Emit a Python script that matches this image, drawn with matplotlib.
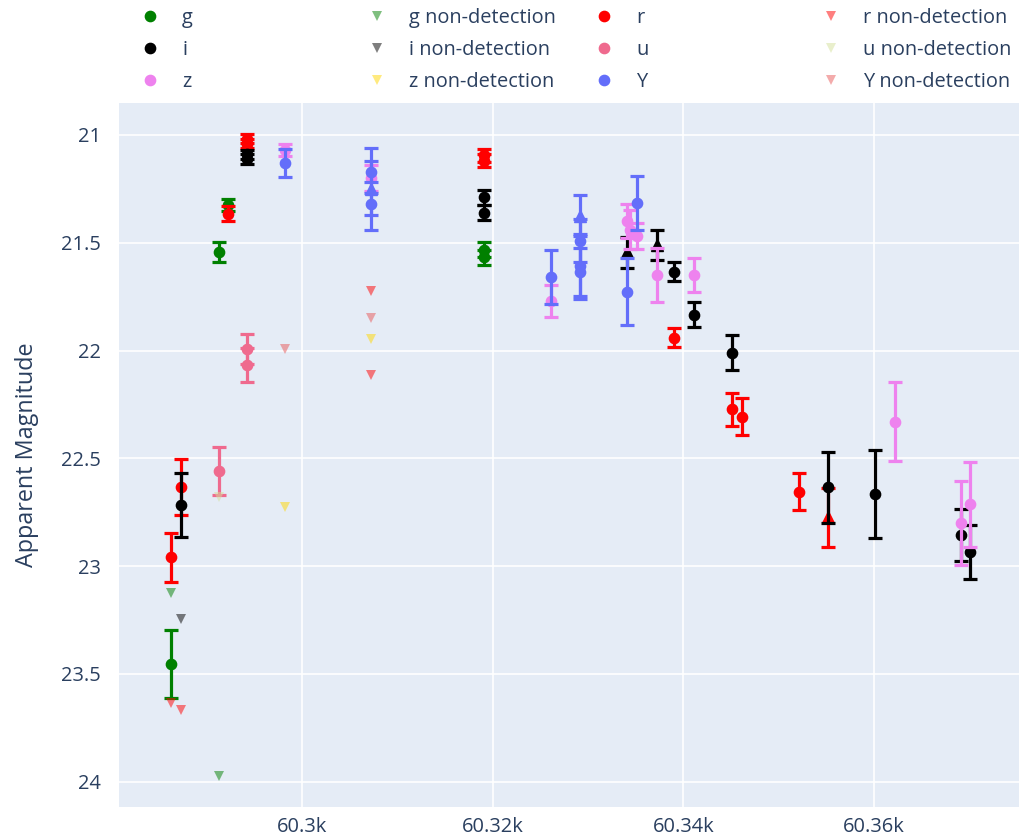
import matplotlib
matplotlib.use("Agg")
import matplotlib.pyplot as plt
from matplotlib.lines import Line2D
from matplotlib.ticker import FuncFormatter, MultipleLocator

plt.rcParams['font.family'] = ['Open Sans', 'DejaVu Sans']

# ---------------- data ----------------
g_x = [60286.26, 60291.30, 60292.24, 60319.09, 60319.09]
g_mag = [23.455, 21.543, 21.325, 21.533, 21.568]
g_err = [0.158, 0.045, 0.03, 0.035, 0.035]
g_sym = ['o', 'o', 'o', 'o', 'o']
g_nd_x = [60286.26, 60291.30]
g_nd_mag = [23.126, 23.973]

r_x = [60286.26, 60287.31, 60292.24, 60294.23, 60294.23, 60319.09, 60319.09,
       60339.01, 60345.07, 60346.11, 60352.15, 60355.13]
r_mag = [22.959, 22.632, 21.365, 21.018, 21.04, 21.095, 21.12,
         21.94, 22.272, 22.307, 22.655, 22.773]
r_err = [0.113, 0.13, 0.035, 0.02, 0.02, 0.03, 0.03,
         0.045, 0.076, 0.087, 0.085, 0.136]
r_sym = ['o'] * 11 + ['^']
r_nd_x = [60286.26, 60287.31, 60307.20, 60307.20]
r_nd_mag = [23.634, 23.667, 21.726, 22.113]

i_x = [60287.31, 60294.23, 60294.23, 60319.09, 60319.09, 60334.03, 60337.20,
       60339.01, 60341.11, 60345.07, 60355.13, 60360.09, 60369.11, 60370.06]
i_mag = [22.718, 21.09, 21.112, 21.29, 21.36, 21.545, 21.51,
         21.634, 21.835, 22.01, 22.634, 22.665, 22.855, 22.933]
i_err = [0.148, 0.022, 0.022, 0.035, 0.035, 0.07, 0.07,
         0.045, 0.058, 0.081, 0.165, 0.205, 0.12, 0.126]
i_sym = ['o'] * 5 + ['^', '^'] + ['o'] * 7
i_nd_x = [60287.31]
i_nd_mag = [23.245]

u_x = [60291.30, 60294.23, 60294.23]
u_mag = [22.558, 21.993, 22.067]
u_err = [0.11, 0.07, 0.08]
u_sym = ['o', 'o', 'o']
u_nd_x = [60291.30]
u_nd_mag = [22.68]

z_x = [60298.16, 60307.20, 60326.08, 60334.03, 60334.40, 60335.13, 60337.20,
       60341.11, 60362.19, 60369.11, 60370.06]
z_mag = [21.07, 21.2, 21.77, 21.40, 21.44, 21.47, 21.65,
         21.649, 22.33, 22.801, 22.712]
z_err = [0.03, 0.06, 0.075, 0.08, 0.09, 0.06, 0.125,
         0.08, 0.183, 0.195, 0.197]
z_sym = ['o'] * 11
z_nd_x = [60298.16, 60307.20]
z_nd_mag = [22.724, 21.946]

Y_x = [60298.16, 60307.20, 60307.20, 60307.20, 60326.08, 60329.16, 60329.16,
       60329.16, 60329.16, 60334.03, 60335.13]
Y_mag = [21.13, 21.17, 21.25, 21.32, 21.66, 21.375, 21.49,
         21.61, 21.635, 21.727, 21.314]
Y_err = [0.065, 0.05, 0.19, 0.05, 0.125, 0.095, 0.1,
         0.15, 0.11, 0.155, 0.125]
Y_sym = ['o', 'o', '^', 'o', 'o', '^', 'o', 'o', 'o', 'o', 'o']
Y_nd_x = [60298.16, 60307.20]
Y_nd_mag = [21.993, 21.85]

bands = ['g', 'r', 'i', 'u', 'z', 'Y']
det = {
    'g': (g_x, g_mag, g_err, g_sym),
    'r': (r_x, r_mag, r_err, r_sym),
    'i': (i_x, i_mag, i_err, i_sym),
    'u': (u_x, u_mag, u_err, u_sym),
    'z': (z_x, z_mag, z_err, z_sym),
    'Y': (Y_x, Y_mag, Y_err, Y_sym),
}
nondet = {
    'g': (g_nd_x, g_nd_mag),
    'r': (r_nd_x, r_nd_mag),
    'i': (i_nd_x, i_nd_mag),
    'u': (u_nd_x, u_nd_mag),
    'z': (z_nd_x, z_nd_mag),
    'Y': (Y_nd_x, Y_nd_mag),
}
colors = {'g': '#008000', 'r': '#ff0000', 'i': '#000000',
          'u': '#ef6a8e', 'z': '#ee82ee', 'Y': '#636efa'}
nd_colors = {'g': '#008000', 'r': '#ff0000', 'i': '#000000',
             'u': '#d4e09b', 'z': '#ffd700', 'Y': '#e85858'}

# ---------------- figure ----------------
fig = plt.figure(figsize=(10.2, 8.35), dpi=100)
ax = fig.add_axes([119 / 1020, 1 - 807 / 835, (1020 - 119) / 1020, (807 - 103) / 835])
ax.set_facecolor('#E5ECF6')
for s in ax.spines.values():
    s.set_visible(False)

MS = 7.4
z = 3
handles = {}
for b in bands:
    x, m, e, sym = det[b]
    c = colors[b]
    ax.errorbar(x, m, yerr=e, fmt='none', ecolor=c, elinewidth=2.3,
                capsize=4.8, capthick=2.3, zorder=z)
    for mk in ('o', '^'):
        xs = [xx for xx, ss in zip(x, sym) if ss == mk]
        ms = [mm for mm, ss in zip(m, sym) if ss == mk]
        if xs:
            ax.plot(xs, ms, linestyle='none', marker=mk, color=c,
                    markersize=MS if mk == 'o' else MS + 0.6, zorder=z + 0.5)
    handles[b] = Line2D([], [], linestyle='none', marker='o', color=c, markersize=MS)
    z += 1
    nx, nm = nondet[b]
    ax.plot(nx, nm, linestyle='none', marker='v', color=nd_colors[b], alpha=0.5,
            markersize=7, markeredgewidth=0, zorder=z)
    handles[b + 'nd'] = Line2D([], [], linestyle='none', marker='v', color=nd_colors[b],
                               alpha=0.5, markersize=7, markeredgewidth=0)
    z += 1

ax.set_xlim(60280.8, 60375.3)
ax.set_ylim(24.117, 20.852)
ax.xaxis.set_major_locator(MultipleLocator(20))
ax.yaxis.set_major_locator(MultipleLocator(0.5))
ax.xaxis.set_major_formatter(FuncFormatter(lambda v, p: f"{v / 1000:g}k"))
ax.yaxis.set_major_formatter(FuncFormatter(lambda v, p: f"{v:g}"))
ax.grid(True, color='white', linewidth=1.2, zorder=0)
ax.set_axisbelow(True)
tc = '#2a3f5f'
ax.tick_params(axis='both', length=0, labelsize=14.4, labelcolor=tc)
ax.tick_params(axis='y', pad=13)
ax.tick_params(axis='x', pad=7)
ax.set_ylabel('Apparent Magnitude', fontsize=16.8, color=tc)
ax.yaxis.set_label_coords(-0.089, 0.5)

# ---------------- legend (4 equally spaced columns) ----------------
cols = [
    (['g', 'i', 'z'], ['g', 'i', 'z']),
    (['gnd', 'ind', 'znd'], ['g non-detection', 'i non-detection', 'z non-detection']),
    (['r', 'u', 'Y'], ['r', 'u', 'Y']),
    (['rnd', 'und', 'Ynd'], ['r non-detection', 'u non-detection', 'Y non-detection']),
]
col_x0 = [140, 367, 594, 821]
for (keys, labels), x0 in zip(cols, col_x0):
    leg = fig.legend([handles[k] for k in keys], labels, loc='upper left',
                     bbox_to_anchor=(x0 / 1020, 1 - 8 / 835), frameon=False,
                     borderpad=0, borderaxespad=0, handlelength=1.0,
                     handletextpad=1.1, labelspacing=0.6, fontsize=14.4)
    for t in leg.get_texts():
        t.set_color(tc)

fig.savefig('out.png', dpi=100)
